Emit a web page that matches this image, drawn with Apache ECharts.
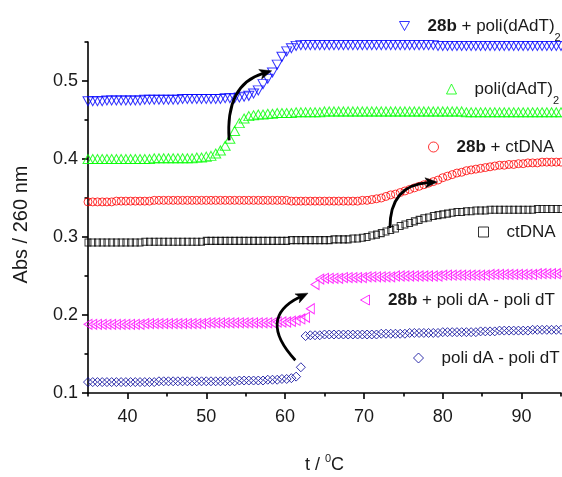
<!DOCTYPE html>
<html><head><meta charset="utf-8">
<script src="https://cdn.jsdelivr.net/npm/echarts@6/dist/echarts.min.js"></script>
<style>html,body{margin:0;padding:0;background:#fff}#c{width:562px;height:477px}</style>
</head><body><div id="c"></div>
<script>
// temperature (°C)
const temps = [35.0,35.6,36.2,36.8,37.4,38.0,38.6,39.2,39.8,40.4,
 41.0,41.6,42.2,42.8,43.4,44.0,44.6,45.2,45.8,46.4,
 47.0,47.6,48.2,48.8,49.4,50.0,50.6,51.2,51.8,52.4,
 53.0,53.6,54.2,54.8,55.4,56.0,56.6,57.2,57.8,58.4,
 59.0,59.6,60.2,60.8,61.4,62.0,62.6,63.2,63.8,64.4,
 65.0,65.6,66.2,66.8,67.4,68.0,68.6,69.2,69.8,70.4,
 71.0,71.6,72.2,72.8,73.4,74.0,74.6,75.2,75.8,76.4,
 77.0,77.6,78.2,78.8,79.4,80.0,80.6,81.2,81.8,82.4,
 83.0,83.6,84.2,84.8,85.4,86.0,86.6,87.2,87.8,88.4,
 89.0,89.6,90.2,90.8,91.4,92.0,92.6,93.2,93.8,94.4,95.0];

// 28b + poli(dAdT)2
const absPolyDAdT_28b = [0.474,0.474,0.474,0.474,0.475,0.475,0.475,0.475,0.475,0.475,
 0.475,0.475,0.476,0.476,0.476,0.476,0.476,0.476,0.476,0.476,
 0.477,0.477,0.477,0.477,0.477,0.477,0.477,0.477,0.477,0.478,
 0.478,0.478,0.479,0.480,0.481,0.484,0.488,0.496,0.503,0.511,
 0.521,0.531,0.538,0.542,0.545,0.546,0.546,0.546,0.546,0.546,
 0.546,0.546,0.546,0.546,0.546,0.546,0.546,0.546,0.546,0.546,
 0.546,0.546,0.546,0.546,0.546,0.546,0.546,0.546,0.546,0.546,
 0.546,0.546,0.546,0.546,0.545,0.545,0.545,0.545,0.545,0.545,
 0.545,0.545,0.545,0.545,0.545,0.545,0.545,0.545,0.545,0.545,
 0.545,0.545,0.545,0.545,0.545,0.545,0.545,0.545,0.545,0.545,0.545];

// poli(dAdT)2
const absPolyDAdT = [0.400,0.400,0.400,0.400,0.400,0.400,0.400,0.400,0.400,0.400,
 0.400,0.400,0.400,0.400,0.401,0.401,0.401,0.401,0.401,0.401,
 0.401,0.401,0.401,0.402,0.402,0.403,0.404,0.407,0.411,0.417,
 0.426,0.436,0.446,0.452,0.455,0.456,0.457,0.457,0.458,0.458,
 0.459,0.459,0.459,0.459,0.460,0.460,0.460,0.460,0.460,0.460,
 0.461,0.461,0.461,0.461,0.461,0.461,0.461,0.461,0.461,0.461,
 0.461,0.461,0.461,0.461,0.461,0.461,0.461,0.461,0.461,0.461,
 0.461,0.461,0.461,0.461,0.461,0.461,0.461,0.461,0.461,0.461,
 0.460,0.460,0.460,0.460,0.460,0.460,0.460,0.460,0.460,0.460,
 0.460,0.460,0.460,0.460,0.460,0.460,0.460,0.460,0.460,0.460,0.460];

// 28b + ctDNA
const absCtDNA_28b = [0.345,0.345,0.345,0.345,0.345,0.345,0.346,0.346,0.346,0.346,
 0.346,0.346,0.346,0.346,0.347,0.347,0.347,0.347,0.347,0.347,
 0.347,0.347,0.347,0.347,0.347,0.347,0.347,0.347,0.347,0.347,
 0.347,0.347,0.347,0.347,0.347,0.347,0.347,0.347,0.347,0.347,
 0.347,0.347,0.347,0.346,0.346,0.346,0.346,0.346,0.346,0.346,
 0.346,0.346,0.346,0.346,0.346,0.346,0.346,0.346,0.347,0.347,
 0.348,0.349,0.350,0.352,0.354,0.355,0.357,0.359,0.361,0.363,
 0.365,0.367,0.369,0.371,0.373,0.376,0.378,0.380,0.382,0.383,
 0.385,0.386,0.387,0.388,0.389,0.390,0.391,0.392,0.392,0.393,
 0.393,0.394,0.394,0.395,0.395,0.395,0.396,0.396,0.396,0.396,0.396];

// ctDNA
const absCtDNA = [0.293,0.293,0.293,0.293,0.293,0.293,0.293,0.293,0.293,0.293,
 0.293,0.293,0.294,0.294,0.294,0.294,0.294,0.294,0.294,0.294,
 0.294,0.294,0.294,0.294,0.294,0.295,0.295,0.295,0.295,0.295,
 0.295,0.295,0.295,0.295,0.295,0.295,0.295,0.295,0.295,0.295,
 0.295,0.295,0.295,0.296,0.296,0.296,0.296,0.296,0.296,0.296,
 0.296,0.296,0.297,0.297,0.297,0.297,0.298,0.298,0.299,0.300,
 0.302,0.303,0.305,0.307,0.309,0.311,0.314,0.316,0.318,0.320,
 0.322,0.324,0.325,0.327,0.328,0.329,0.330,0.331,0.332,0.332,
 0.333,0.333,0.334,0.334,0.334,0.335,0.335,0.335,0.335,0.335,
 0.335,0.335,0.335,0.335,0.335,0.336,0.336,0.336,0.336,0.336,0.336];

// 28b + poli dA - poli dT
const absPolyDA_DT_28b = [0.188,0.188,0.188,0.188,0.188,0.188,0.188,0.188,0.188,0.188,
 0.188,0.188,0.189,0.189,0.189,0.189,0.189,0.189,0.189,0.189,
 0.189,0.189,0.189,0.189,0.189,0.190,0.190,0.190,0.190,0.190,
 0.190,0.190,0.190,0.190,0.190,0.190,0.190,0.190,0.190,0.190,
 0.191,0.191,0.191,0.192,0.193,0.195,0.197,0.208,0.239,0.246,
 0.247,0.247,0.247,0.247,0.248,0.248,0.248,0.248,0.248,0.249,
 0.249,0.249,0.249,0.249,0.249,0.250,0.250,0.250,0.250,0.250,
 0.250,0.250,0.250,0.250,0.250,0.251,0.251,0.251,0.251,0.251,
 0.251,0.251,0.251,0.251,0.251,0.252,0.252,0.252,0.252,0.252,
 0.252,0.252,0.252,0.252,0.252,0.253,0.253,0.253,0.253,0.253,0.253];

// poli dA - poli dT
const absPolyDA_DT = [0.114,0.114,0.114,0.114,0.114,0.114,0.114,0.114,0.114,0.114,
 0.114,0.114,0.114,0.114,0.114,0.115,0.115,0.115,0.115,0.115,
 0.115,0.115,0.115,0.115,0.115,0.115,0.115,0.115,0.115,0.115,
 0.115,0.115,0.116,0.116,0.116,0.116,0.116,0.116,0.117,0.117,
 0.117,0.118,0.118,0.119,0.121,0.133,0.173,0.174,0.174,0.174,
 0.175,0.175,0.175,0.175,0.175,0.175,0.175,0.175,0.175,0.175,
 0.175,0.175,0.176,0.176,0.176,0.176,0.176,0.176,0.177,0.177,
 0.177,0.177,0.177,0.177,0.177,0.178,0.178,0.178,0.178,0.178,
 0.178,0.178,0.178,0.179,0.179,0.179,0.179,0.180,0.180,0.180,
 0.180,0.180,0.180,0.180,0.181,0.181,0.181,0.181,0.181,0.181,0.181];

const seriesNames = ['28b + poli(dAdT)2','poli(dAdT)2','28b + ctDNA','ctDNA','28b + poli dA - poli dT','poli dA - poli dT'];
const legendLabels = ['{gap| }{b|28b} + poli(dAdT){sub|2}','{gap| }poli(dAdT){sub|2}','{gap| }{b|28b} + ctDNA','{gap| }ctDNA','{gap| }{b|28b} + poli dA - poli dT','{gap| }poli dA - poli dT'];
const seriesValues = [absPolyDAdT_28b, absPolyDAdT, absCtDNA_28b, absCtDNA, absPolyDA_DT_28b, absPolyDA_DT];

const xMajorTicks = [40,50,60,70,80,90];
const xMinorTicks = [35,45,55,65,75,85,95];
const yMajorTicks = [0.1,0.2,0.3,0.4,0.5];
const yMinorTicks = [0.15,0.25,0.35,0.45,0.55];

// annotation arrows (data coordinates): start, control, end
const arrowFrom = [[52.9,0.424],[73.3,0.3115],[61.3,0.142]];
const arrowCtrl = [[52.4,0.495],[73.3,0.3667],[56.4,0.196]];
const arrowTo   = [[58.3,0.513],[79.3,0.3705],[62.9,0.228]];

const FONT = '"Liberation Sans", Arial, sans-serif';
const TXT = '#1a1a1a';
const styles = [
  {symbol:'path://M0,0 L10,0 L5,9 Z', size:[10,9], color:'#0000ff'},
  {symbol:'triangle', size:[10,9], color:'#00ff00'},
  {symbol:'circle', size:8, color:'#ff0000'},
  {symbol:'rect', size:[6,7], color:'#000000'},
  {symbol:'path://M9,0 L9,10 L0,5 Z', size:[8,10], color:'#ff00ff'},
  {symbol:'diamond', size:[9,9], color:'#000099'}
];
const legendPos = [[399,9],[446,72],[428,130],[478,215],[360,283],[413,341]];

const chart = echarts.init(document.getElementById('c'), null, {renderer:'canvas'});

const grid = {left:88, right:1, top:42, bottom:84, containLabel:false, outerBoundsMode:'none'};
const option = {
  animation:false,
  backgroundColor:'#fff',
  grid:[Object.assign({},grid), Object.assign({},grid)],
  xAxis:[{
    type:'value', gridIndex:0, min:35, max:95, position:'bottom',
    axisLine:{show:true, onZero:false, lineStyle:{color:'#000', width:1.6}},
    axisTick:{show:true, customValues:xMajorTicks, length:6, lineStyle:{color:'#000', width:1.6}},
    axisLabel:{customValues:xMajorTicks, margin:15, fontSize:18, color:TXT, fontFamily:FONT},
    splitLine:{show:false},
    name:'{t|t / }{sup|0}{t|C}', nameLocation:'middle', nameGap:60,
    nameTextStyle:{fontSize:18, color:TXT, fontFamily:FONT, lineHeight:24,
      rich:{t:{fontSize:18, lineHeight:24, color:TXT, fontFamily:FONT}, sup:{fontSize:11, lineHeight:10, verticalAlign:'top', color:TXT, fontFamily:FONT}}}
  },{
    type:'value', gridIndex:1, min:35, max:95, position:'bottom',
    axisLine:{show:false, onZero:false},
    axisTick:{show:true, customValues:xMinorTicks, length:3.5, lineStyle:{color:'#000', width:1.6}},
    axisLabel:{show:false}, splitLine:{show:false}
  }],
  yAxis:[{
    type:'value', gridIndex:0, min:0.1, max:0.55, position:'left',
    axisLine:{show:true, onZero:false, lineStyle:{color:'#000', width:1.6}},
    axisTick:{show:true, customValues:yMajorTicks, length:6, lineStyle:{color:'#000', width:1.6}},
    axisLabel:{customValues:yMajorTicks, margin:10, fontSize:18, color:TXT, fontFamily:FONT, formatter:v=>v.toFixed(1)},
    splitLine:{show:false},
    name:'Abs / 260 nm', nameLocation:'middle', nameGap:57, nameRotate:90,
    nameTextStyle:{fontSize:20, color:TXT, fontFamily:FONT, padding:[0,14,0,0]}
  },{
    type:'value', gridIndex:1, min:0.1, max:0.55, position:'left',
    axisLine:{show:false, onZero:false},
    axisTick:{show:true, customValues:yMinorTicks, length:3.5, lineStyle:{color:'#000', width:1.6}},
    axisLabel:{show:false}, splitLine:{show:false}
  }],
  legend: seriesNames.map((n,i)=>({
    data:[n], left:legendPos[i][0], top:legendPos[i][1], padding:0,
    selectedMode:false, itemWidth:10, itemHeight:10,
    itemStyle:{borderWidth:1},
    formatter:()=>legendLabels[i],
    textStyle:{fontSize:17, color:TXT, fontFamily:FONT, lineHeight:34,
      rich:{
        b:{fontWeight:'bold', fontSize:17, lineHeight:34, color:TXT, fontFamily:FONT},
        sub:{fontSize:11, lineHeight:10, verticalAlign:'bottom', color:TXT, fontFamily:FONT},
        gap:{width:13, fontSize:17, lineHeight:34}
      }}
  })),
  series: seriesNames.map((n,i)=>({
    name:n, type:'scatter', xAxisIndex:0, yAxisIndex:0,
    symbol:styles[i].symbol, symbolSize:styles[i].size,
    itemStyle:{color:'rgba(0,0,0,0)', borderColor:styles[i].color, borderWidth:1},
    emphasis:{disabled:true},
    data: temps.map((t,k)=>[t, seriesValues[i][k]])
  }))
};
chart.setOption(option);

function buildArrows(){
  const els = [];
  for (let i=0;i<arrowFrom.length;i++){
    const p0 = chart.convertToPixel({xAxisIndex:0, yAxisIndex:0}, arrowFrom[i]);
    const c  = chart.convertToPixel({xAxisIndex:0, yAxisIndex:0}, arrowCtrl[i]);
    const p1 = chart.convertToPixel({xAxisIndex:0, yAxisIndex:0}, arrowTo[i]);
    const dx = p1[0]-c[0], dy = p1[1]-c[1], L = Math.hypot(dx,dy);
    const ux = dx/L, uy = dy/L, nx = -uy, ny = ux;
    const hl = 12, hw = 5;
    const bx = p1[0]-ux*hl, by = p1[1]-uy*hl;
    els.push({type:'bezierCurve', z:100, silent:true,
      shape:{x1:p0[0], y1:p0[1], cpx1:c[0], cpy1:c[1], x2:bx+ux*3, y2:by+uy*3},
      style:{stroke:'#000', lineWidth:2.8, fill:null}});
    els.push({type:'polygon', z:101, silent:true,
      shape:{points:[[p1[0],p1[1]],[bx+nx*hw,by+ny*hw],[bx+ux*3,by+uy*3],[bx-nx*hw,by-ny*hw]]},
      style:{fill:'#000', stroke:'#000', lineWidth:0.5}});
  }
  return els;
}
chart.setOption({graphic: buildArrows()});
</script>
</body></html>
